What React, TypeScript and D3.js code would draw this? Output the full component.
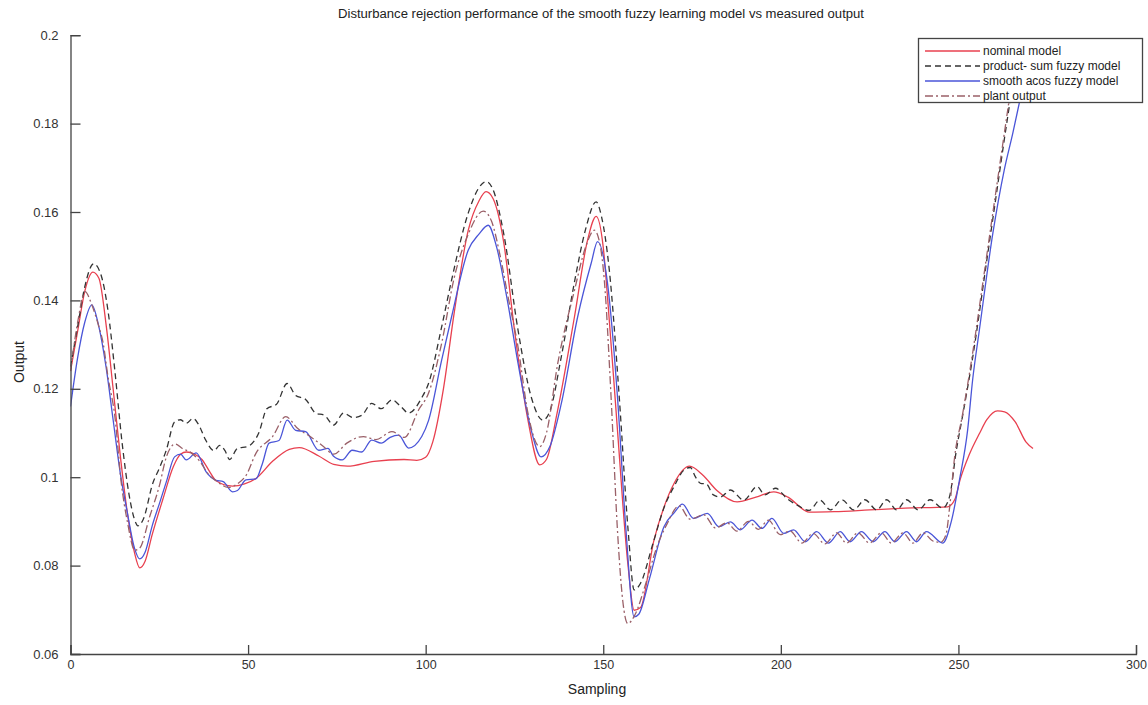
import React, { useEffect, useRef } from "react";
import * as d3 from "d3";

// samples: [sampling, output]
const nominalModel: [number, number][] = [
  [0, 0.124], [2, 0.133], [4, 0.142], [6.3, 0.1464], [8, 0.145], [10.1, 0.134], [12, 0.12], [14, 0.105],
  [16, 0.092], [18, 0.083], [19.5, 0.0795], [21, 0.081], [23, 0.087], [26, 0.095], [29, 0.1025], [31, 0.1052],
  [32.6, 0.1057], [35, 0.1052], [37, 0.104], [39, 0.1015], [41, 0.0992], [45.6, 0.098], [49, 0.0985], [52.2, 0.0997],
  [56.9, 0.1036], [61.6, 0.1063], [64.4, 0.1067], [69.9, 0.1048], [74.1, 0.1029], [78, 0.1025], [85.5, 0.1036],
  [93.9, 0.104], [97.5, 0.1038], [100, 0.1045], [102, 0.108], [105, 0.12], [108, 0.137], [112, 0.1559],
  [115, 0.1625], [117, 0.1646], [119, 0.163], [122, 0.153], [125, 0.1333], [128.8, 0.1129], [132.1, 0.1028],
  [134, 0.104], [137, 0.1145], [141.9, 0.1363], [145.6, 0.1537], [148, 0.159], [150, 0.152], [151.2, 0.1408],
  [154, 0.1107], [156.9, 0.0806], [158.7, 0.0699], [160.5, 0.0705], [164.3, 0.0858], [167, 0.093], [170, 0.0987],
  [174.3, 0.1025], [178, 0.1005], [182, 0.097], [187.7, 0.0944], [193, 0.0955], [198, 0.0967], [202, 0.0955],
  [208, 0.0921], [215, 0.0922], [225, 0.0926], [235, 0.093], [247, 0.0933], [249, 0.095], [250.5, 0.0995],
  [253, 0.105], [256, 0.11], [258, 0.113], [261, 0.115], [263, 0.1148], [266, 0.1125], [269, 0.108], [271, 0.1065],
];

const productSumModel: [number, number][] = [
  [0, 0.125], [2, 0.134], [4, 0.143], [6.5, 0.1483], [8.5, 0.146], [10.5, 0.138], [12.5, 0.124], [14.5, 0.108],
  [16.5, 0.096], [18, 0.0905], [19, 0.089], [20.5, 0.0905], [23.2, 0.0987], [25, 0.102], [27, 0.1062], [29.3, 0.1125],
  [31, 0.113], [32.6, 0.1122], [34.5, 0.1133], [36, 0.112], [38, 0.1085], [40.4, 0.106], [42, 0.1072], [43.5, 0.106],
  [44.8, 0.104], [47, 0.1065], [50, 0.107], [53, 0.11], [55.3, 0.1155], [58, 0.1165], [61, 0.1212], [63.4, 0.1185],
  [66.2, 0.1176], [69, 0.1145], [71.5, 0.114], [74.1, 0.1118], [76.9, 0.1145], [79.5, 0.1135], [82, 0.114],
  [84.8, 0.1167], [87.5, 0.1155], [90.5, 0.1175], [93, 0.116], [95.2, 0.1145], [98.9, 0.118], [100.8, 0.1212],
  [104.5, 0.134], [107.3, 0.1446], [112, 0.1598], [115, 0.1655], [117.1, 0.1669], [119, 0.165], [122, 0.155],
  [126, 0.1333], [129.7, 0.1182], [133, 0.1129], [135, 0.115], [138.2, 0.1273], [142, 0.1446], [145, 0.156],
  [148, 0.1623], [149.5, 0.159], [151.7, 0.1469], [154.5, 0.1182], [157, 0.088], [158.7, 0.0745], [160.5, 0.076],
  [164, 0.085], [167.2, 0.0933], [170, 0.098], [172.7, 0.1016], [174.5, 0.1022], [176, 0.1], [177.4, 0.0986],
  [179, 0.0985], [181, 0.096], [183, 0.0955], [185.8, 0.0971], [189.6, 0.0948], [193.3, 0.0979], [195.5, 0.096],
  [198.5, 0.0975], [201.7, 0.0952], [205, 0.0935], [208, 0.0925], [211, 0.0948], [214, 0.0926], [217.2, 0.0949],
  [220.5, 0.0926], [223.7, 0.0949], [227, 0.0926], [229.8, 0.0949], [232.6, 0.0926], [235.4, 0.0949], [238.7, 0.0926],
  [242, 0.0949], [245.6, 0.093], [247.5, 0.0956], [249.4, 0.106], [251.2, 0.114], [254, 0.127], [257.8, 0.148],
  [260.6, 0.1635], [262.9, 0.1763], [264.7, 0.186], [266.6, 0.197],
];

const smoothAcosModel: [number, number][] = [
  [0, 0.116], [2, 0.127], [4, 0.135], [6, 0.139], [8, 0.134], [10, 0.125], [12, 0.113], [14, 0.101], [16, 0.092],
  [18, 0.084], [19.5, 0.0815], [21, 0.083], [23, 0.089], [25.1, 0.0942], [27, 0.099], [29.3, 0.1046], [31, 0.1052],
  [32.6, 0.1039], [35.4, 0.1055], [38.2, 0.1012], [41, 0.0993], [43, 0.099], [45.6, 0.0967], [47, 0.097],
  [49.4, 0.0994], [52.2, 0.0996], [54, 0.103], [55.9, 0.1077], [58.7, 0.1083], [61, 0.1129], [63.4, 0.1106],
  [66.2, 0.1103], [69.9, 0.1061], [72.5, 0.1065], [74, 0.1048], [76.5, 0.1039], [79.3, 0.1061], [82, 0.1057],
  [84.8, 0.1084], [87.5, 0.1077], [90, 0.109], [92.4, 0.1095], [95.2, 0.1066], [98.9, 0.1092], [100.8, 0.1128],
  [104.5, 0.1265], [107.3, 0.1363], [112, 0.1514], [115, 0.155], [117.6, 0.157], [120, 0.152], [123, 0.14],
  [126, 0.1258], [129.7, 0.1107], [132.5, 0.1046], [135, 0.107], [138.2, 0.1167], [142.8, 0.1363], [146.6, 0.1484],
  [148.4, 0.1533], [151.2, 0.1439], [154, 0.1182], [156.4, 0.088], [158.7, 0.0684], [160, 0.069], [163, 0.077],
  [167.1, 0.0888], [170, 0.092], [172.3, 0.0939], [175.4, 0.0907], [179.3, 0.0918], [182.6, 0.0888], [185.8, 0.0899],
  [188.6, 0.0881], [191.9, 0.0903], [194.7, 0.0884], [197.5, 0.0907], [200.8, 0.0873], [203.6, 0.0881],
  [206.9, 0.0854], [210.1, 0.0877], [213.4, 0.0851], [216.7, 0.0877], [219.5, 0.0854], [222.7, 0.0877],
  [226, 0.0854], [229.3, 0.0877], [232.1, 0.0854], [235.4, 0.0877], [238.2, 0.0854], [241, 0.0877], [245.6, 0.0851],
  [248, 0.09], [250.3, 0.0994], [252.6, 0.1107], [254, 0.122], [255.9, 0.1333], [259.7, 0.1552], [262.9, 0.1695],
  [265.3, 0.1778], [267.5, 0.186], [270.5, 0.197],
];

const plantOutput: [number, number][] = [
  [0, 0.124], [2, 0.135], [4.1, 0.142], [6, 0.139], [8, 0.134], [9.2, 0.1303], [10.5, 0.123], [12.5, 0.1137],
  [14.3, 0.0987], [16, 0.09], [18.1, 0.0835], [19.5, 0.084], [22.3, 0.0911], [25, 0.098], [27, 0.1046],
  [29.5, 0.1075], [31.5, 0.1065], [34, 0.1055], [36.5, 0.1035], [39, 0.1005], [41, 0.0992], [44.4, 0.0977],
  [47, 0.0985], [49.5, 0.1005], [52.2, 0.1054], [56.9, 0.1092], [60.6, 0.1137], [64, 0.111], [67.5, 0.1092],
  [71.3, 0.1069], [74.1, 0.1052], [77.8, 0.1077], [82.5, 0.1092], [86, 0.1085], [90.5, 0.1103], [94, 0.109],
  [98, 0.1152], [100.8, 0.119], [104.5, 0.1303], [108, 0.145], [112, 0.155], [116.2, 0.1602], [118.5, 0.158],
  [121, 0.15], [123.2, 0.1408], [126, 0.1295], [128.8, 0.1145], [132.1, 0.1069], [134, 0.11], [137.2, 0.1258],
  [141.9, 0.1423], [145, 0.152], [147.5, 0.1559], [149, 0.153], [150.3, 0.1446], [152.2, 0.1182], [154, 0.088],
  [155.5, 0.072], [156.9, 0.0669], [159, 0.069], [162, 0.076], [165, 0.084], [168, 0.0895], [171.3, 0.0935],
  [174.5, 0.0905], [178.3, 0.0915], [181.6, 0.0885], [184.8, 0.0897], [187.6, 0.0878], [190.9, 0.09],
  [193.7, 0.0882], [196.5, 0.0903], [199.8, 0.087], [202.6, 0.0878], [205.9, 0.0851], [209.1, 0.0873],
  [212.4, 0.0849], [215.7, 0.0874], [218.5, 0.0851], [221.7, 0.0874], [225, 0.0851], [228.3, 0.0874],
  [231.1, 0.0851], [234.4, 0.0874], [237.2, 0.0851], [240, 0.0874], [243, 0.0855], [245, 0.0853], [246.5, 0.087],
  [247.5, 0.093], [249, 0.105], [251, 0.1135], [253.7, 0.1265], [257.5, 0.1475], [260.3, 0.1632],
  [262.6, 0.176], [264.4, 0.186], [266.3, 0.197],
];

const xTicks = [0, 50, 100, 150, 200, 250, 300];
const yTicks = [0.06, 0.08, 0.1, 0.12, 0.14, 0.16, 0.18, 0.2];

const series = [
  { name: "nominal model", data: nominalModel, color: "#e8404f", dash: null },
  { name: "product- sum fuzzy model", data: productSumModel, color: "#333333", dash: "6,4" },
  { name: "smooth acos fuzzy model", data: smoothAcosModel, color: "#4a55d8", dash: null },
  { name: "plant output", data: plantOutput, color: "#9a6068", dash: "8,3,2,3" },
];

const FONT = "'Liberation Sans', Arial, sans-serif";

export default function App() {
  const ref = useRef<SVGSVGElement>(null);

  useEffect(() => {
    const svg = d3.select(ref.current);
    svg.selectAll("*").remove();

    const x = d3.scaleLinear().domain([0, 300]).range([70.5, 1136]);
    const y = d3.scaleLinear().domain([0.06, 0.2]).range([654, 35.2]);

    // title
    svg.append("text")
      .attr("x", 601).attr("y", 18)
      .attr("text-anchor", "middle")
      .attr("textLength", 526).attr("lengthAdjust", "spacingAndGlyphs")
      .style("font-family", FONT).style("font-size", "12px").style("fill", "#222")
      .text("Disturbance rejection performance of the smooth fuzzy learning model vs measured output");

    svg.append("defs").append("clipPath").attr("id", "plotclip")
      .append("rect").attr("x", 70.5).attr("y", 35.2).attr("width", 1066).attr("height", 619);

    // lines
    const line = d3.line<[number, number]>()
      .x((d) => x(d[0]))
      .y((d) => y(d[1]))
      .curve(d3.curveMonotoneX);

    const g = svg.append("g").attr("clip-path", "url(#plotclip)");
    series.forEach((s) => {
      g.append("path")
        .datum(s.data)
        .attr("d", line)
        .attr("fill", "none")
        .attr("stroke", s.color)
        .attr("stroke-width", 1.3)
        .attr("stroke-dasharray", s.dash);
    });

    // axes, ticks pointing inward
    const yAxis = d3.axisLeft(y).tickValues(yTicks).tickSize(-10).tickPadding(12)
      .tickFormat((d) => String(+(+d).toFixed(2)));
    const xAxis = d3.axisBottom(x).tickValues(xTicks).tickSize(-9).tickPadding(6)
      .tickFormat((d) => String(d));

    const gy = svg.append("g").attr("transform", "translate(70.5,0)").call(yAxis);
    const gx = svg.append("g").attr("transform", "translate(0,654)").call(xAxis);
    [gx, gy].forEach((a) => {
      a.selectAll("path, line").attr("stroke", "#444").attr("stroke-width", 1.3);
      a.selectAll("text").style("font-family", FONT).style("font-size", "13px").attr("fill", "#333");
    });
    gx.selectAll("text").style("font-size", "12.5px");

    svg.append("text")
      .attr("x", 597).attr("y", 694).attr("text-anchor", "middle")
      .style("font-family", FONT).style("font-size", "14px").style("fill", "#222")
      .text("Sampling");
    svg.append("text")
      .attr("transform", "translate(24,362) rotate(-90)").attr("text-anchor", "middle")
      .style("font-family", FONT).style("font-size", "14px").style("fill", "#222")
      .text("Output");

    // legend
    const lg = svg.append("g");
    lg.append("rect")
      .attr("x", 918.5).attr("y", 38.5).attr("width", 224).attr("height", 64)
      .attr("fill", "#fff").attr("stroke", "#444").attr("stroke-width", 1.3);
    series.forEach((s, i) => {
      const yy = 51 + i * 15;
      lg.append("line")
        .attr("x1", 925).attr("x2", 980).attr("y1", yy).attr("y2", yy)
        .attr("stroke", s.color).attr("stroke-width", 1.3)
        .attr("stroke-dasharray", s.dash);
      lg.append("text")
        .attr("x", 983).attr("y", yy + 4)
        .style("font-family", FONT).style("font-size", "12px").style("fill", "#222")
        .text(s.name);
    });
  }, []);

  return (
    <div style={{ position: "absolute", left: 0, top: 0 }}>
      <svg ref={ref} width={1148} height={705} style={{ display: "block", background: "#fff" }} />
    </div>
  );
}
